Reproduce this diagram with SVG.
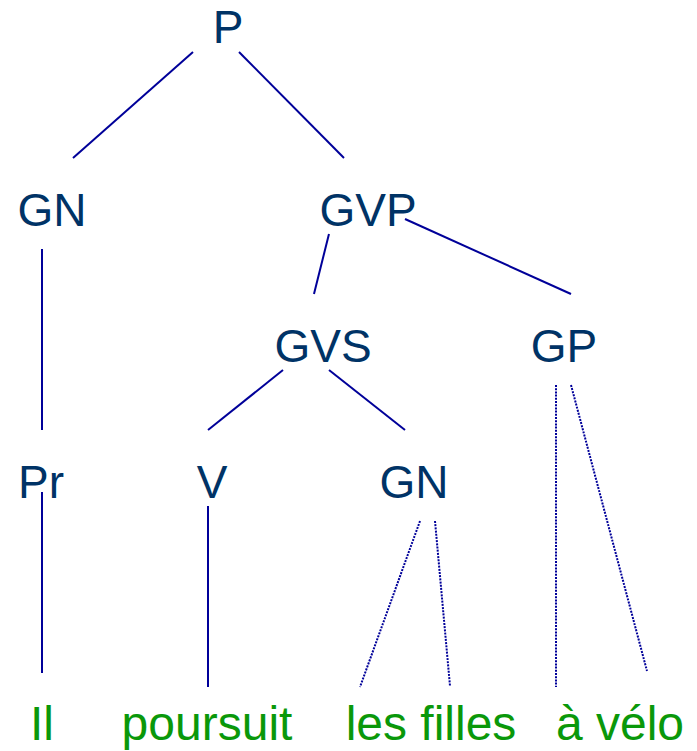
<svg xmlns="http://www.w3.org/2000/svg" width="697" height="751" viewBox="0 0 697 751">
<style>
.lbl{font-family:"Liberation Sans",Arial,sans-serif;font-size:46px;fill:#003366;text-anchor:middle}
.leaf{font-family:"Liberation Sans",Arial,sans-serif;font-size:48px;fill:#0a980a;text-anchor:middle}
.e{stroke:#000099;stroke-width:2;fill:none}
.d{stroke:#000099;stroke-width:2;fill:none;stroke-dasharray:2 1.2}
</style>
<rect width="697" height="751" fill="#ffffff"/>
<g id="connectors">
<line class="e" x1="193" y1="52" x2="73" y2="158"/>
<line class="e" x1="239" y1="52" x2="344" y2="158"/>
<line class="e" x1="42" y1="249" x2="42" y2="430"/>
<line class="e" x1="329" y1="234" x2="314" y2="294"/>
<line class="e" x1="405" y1="219" x2="571" y2="294"/>
<line class="e" x1="283" y1="370" x2="208" y2="430"/>
<line class="e" x1="329" y1="370" x2="405" y2="430"/>
<line class="e" x1="42" y1="492" x2="42" y2="673"/>
<line class="e" x1="208" y1="506" x2="208" y2="687"/>
<line class="d" x1="420" y1="521" x2="360" y2="687"/>
<line class="d" x1="435" y1="521" x2="450" y2="686"/>
<line class="d" x1="556" y1="385" x2="556" y2="687"/>
<line class="d" x1="571" y1="385" x2="647" y2="671"/>
</g>
<g id="node-P"><text class="lbl" x="228" y="43">P</text></g>
<g id="node-GN1"><text class="lbl" x="52" y="226">GN</text></g>
<g id="node-GVP"><text class="lbl" x="368" y="226">GVP</text></g>
<g id="node-GVS"><text class="lbl" x="323" y="362">GVS</text></g>
<g id="node-GP"><text class="lbl" x="564" y="362">GP</text></g>
<g id="node-Pr"><text class="lbl" x="41" y="498">Pr</text></g>
<g id="node-V"><text class="lbl" x="212" y="498">V</text></g>
<g id="node-GN2"><text class="lbl" x="414" y="498">GN</text></g>
<g id="leaf-Il"><text class="leaf" x="42" y="740">Il</text></g>
<g id="leaf-poursuit"><text class="leaf" x="207" y="740">poursuit</text></g>
<g id="leaf-lesfilles"><text class="leaf" x="431" y="740">les filles</text></g>
<g id="leaf-avelo"><text class="leaf" x="620" y="740">à vélo</text></g>
</svg>
